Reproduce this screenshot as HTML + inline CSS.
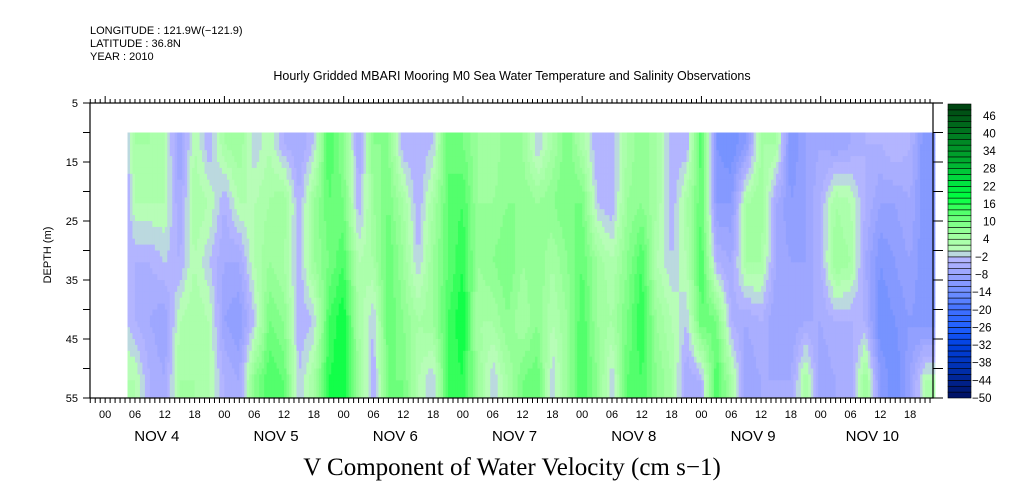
<!DOCTYPE html>
<html><head><meta charset="utf-8"><style>
html,body{margin:0;padding:0;background:#fff;}
svg{display:block;font-family:"Liberation Sans",sans-serif;}
</style></head><body>
<svg id="chart" width="1009" height="504" viewBox="0 0 1009 504" xmlns="http://www.w3.org/2000/svg">
<g font-size="11" fill="#000">
<text x="90" y="34">LONGITUDE : 121.9W(−121.9)</text>
<text x="90" y="47">LATITUDE : 36.8N</text>
<text x="90" y="60">YEAR : 2010</text>
</g>
<text x="512" y="80" text-anchor="middle" font-size="12.5">Hourly Gridded MBARI Mooring M0 Sea Water Temperature and Salinity Observations</text>
<g id="heat"></g>
<g id="axes"></g>
<g id="cbar"></g>
<text transform="translate(51,255) rotate(-90)" text-anchor="middle" font-size="11">DEPTH (m)</text>
<text x="512" y="475" text-anchor="middle" font-family="Liberation Serif, serif" font-size="25">V Component of Water Velocity (cm s−1)</text>
</svg>
<script>
// hours since NOV 4 00:00
const times = [4.5,6,9,12,15,18,21,24,27,30,33,36,39,42,45,48,51,54,57,60,63,66,69,72,75,78,81,84,87,90,93,96,99,102,105,108,111,114,117,120,123,126,129,132,135,138,141,144,147,150,153,156,159,162,165,166.6];
const depths = [10,12,22,32,42,52,55];
// values (cm/s) at depths 12,22,32,42,52 per time
const v12 = [-2,4,4,2,-8,2,-4,4,6,-2,2,-4,-6,-2,14,8,-6,8,8,-4,-4,-2,12,10,6,4,8,6,-2,4,10,3,-4,-4,4,8,4,-4,-4,14,-12,-14,-10,4,4,-12,-8,-6,-8,-6,-4,-4,-2,-4,-12,-12];
const v22 = [-4,2,2,2,-6,4,2,-4,2,2,4,6,-4,6,12,10,-4,6,10,4,-4,4,12,14,6,6,8,8,6,8,10,10,-2,-4,6,8,4,-4,4,12,-10,-10,4,6,-6,-10,-8,-4,4,2,-4,-8,-8,-6,-12,-12];
const v32 = [-4,-4,-4,-2,-4,2,-2,-6,-6,2,6,4,-4,6,10,14,2,4,12,6,-2,6,12,16,6,8,10,6,8,4,8,12,6,2,8,14,2,-2,2,14,-4,-6,4,4,-6,-8,-8,-4,6,4,-6,-12,-10,-8,-12,-12];
const v42 = [-2,-4,-6,-8,2,4,2,-8,-10,-2,10,8,-4,-2,14,18,4,-2,12,8,4,6,14,18,4,4,8,4,8,2,6,14,6,4,10,16,6,2,-2,12,10,-4,-6,-4,-8,-8,-6,-6,-4,-4,-4,-14,-12,-10,-12,-12];
const v52 = [2,2,-4,-6,4,4,2,-4,-6,8,14,12,-2,4,16,18,6,-4,10,10,2,-2,14,16,6,-2,4,10,12,-2,6,14,8,-2,12,14,8,4,-6,-4,14,4,-8,-6,-6,-6,4,-8,-6,-6,6,-10,-14,-8,2,2];
const cbLabels = [46,40,34,28,22,16,10,4,-2,-8,-14,-20,-26,-32,-38,-44,-50];
const dayLabels = ["NOV  4","NOV  5","NOV  6","NOV  7","NOV  8","NOV  9","NOV 10"];
const depthTicks = [5,15,25,35,45,55];

const NS="http://www.w3.org/2000/svg";
const X0=90, X1=933, T0=-3.05, T1=166.6;
const Y0=103, Y1=398, D0=5, D1=55;
const xs = t => X0+(t-T0)/(T1-T0)*(X1-X0);
const ys = d => Y0+(d-D0)/(D1-D0)*(Y1-Y0);
function el(tag,attrs,parent){const e=document.createElementNS(NS,tag);for(const k in attrs)e.setAttribute(k,attrs[k]);parent.appendChild(e);return e;}

const stops=[[-50,[0,16,96]],[-40,[0,48,176]],[-32,[0,64,224]],[-26,[32,96,255]],[-20,[64,112,255]],[-14,[112,144,255]],[-10,[140,156,255]],[-6,[164,170,255]],[-2,[184,184,255]],[0,[190,250,190]],[2,[176,255,176]],[6,[156,255,156]],[10,[120,255,130]],[14,[70,255,100]],[18,[0,255,64]],[24,[0,224,64]],[30,[0,176,48]],[40,[0,120,32]],[50,[0,64,16]]];
function colorFor(v){
  let b=Math.floor(v/2)*2; b=Math.max(-50,Math.min(48,b)); const c=b+1;
  for(let i=0;i<stops.length-1;i++){const [a,ca]=stops[i],[bb,cb]=stops[i+1];
    if(c>=a&&c<=bb){const f=(c-a)/(bb-a);return `rgb(${ca.map((q,j)=>Math.round(q+(cb[j]-q)*f)).join(',')})`;}}
  return c<0?'rgb(0,16,96)':'rgb(0,64,16)';
}
const prof=[v12,v22,v32,v42,v52];
function valAt(i,d){
  const col=[prof[0][i],prof[0][i],prof[1][i],prof[2][i],prof[3][i],prof[4][i],prof[4][i]];
  for(let k=0;k<depths.length-1;k++){if(d>=depths[k]&&d<=depths[k+1]){const f=(d-depths[k])/(depths[k+1]-depths[k]);return col[k]+(col[k+1]-col[k])*f;}}
  return col[col.length-1];
}
const heat=document.getElementById('heat');
const dt=0.5, dd=1;
for(let t=times[0]; t<times[times.length-1]; t+=dt){
  let i=0; while(i<times.length-2 && times[i+1]<=t) i++;
  const f=(t+dt/2-times[i])/(times[i+1]-times[i]);
  for(let d=10; d<55; d+=dd){
    const dm=d+dd/2;
    const v=valAt(i,dm)*(1-f)+valAt(i+1,dm)*f;
    const r=el('rect',{x:xs(t).toFixed(2),y:ys(d).toFixed(2),width:(xs(t+dt)-xs(t)+0.4).toFixed(2),height:(ys(d+dd)-ys(d)+0.4).toFixed(2),fill:colorFor(v)},heat);
    
    
  }
}
const ax=document.getElementById('axes');
el('rect',{x:X0,y:Y0,width:X1-X0,height:Y1-Y0,fill:'none',stroke:'#000','stroke-width':1.2},ax);
el('line',{x1:X1,y1:Y0,x2:943,y2:Y0,stroke:'#000','stroke-width':1.2},ax);
for(let h=Math.ceil(T0); h<=T1; h++){
  const x=xs(h), major=((h%24)+24)%24===0;
  el('line',{x1:x,y1:Y1,x2:x,y2:Y1+5,stroke:'#000'},ax);
  el('line',{x1:x,y1:Y0,x2:x,y2:Y0-(major?7:4),stroke:'#000'},ax);
  if(h%6===0 && h>=0){
    const hh=((h%24)+24)%24;
    const lb=el('text',{x:x,y:418,'text-anchor':'middle','font-size':11},ax);
    lb.textContent=(hh<10?'0':'')+hh;
    
    
  }
}
dayLabels.forEach((s,i)=>{
  const t=el('text',{x:xs(i*24+12)-8,y:441,'text-anchor':'middle','font-size':15,'xml:space':'preserve'},ax);
  t.textContent=s;
  
  
});
for(let d=5; d<=55; d+=5){
  el('line',{x1:X0-7,y1:ys(d),x2:X0,y2:ys(d),stroke:'#000'},ax);
  el('line',{x1:X1,y1:ys(d),x2:943,y2:ys(d),stroke:'#000'},ax);
}
depthTicks.forEach(d=>{
  const t=el('text',{x:78,y:ys(d)+4,'text-anchor':'end','font-size':11},ax);
  t.textContent=d;
  
  
});
const cb=document.getElementById('cbar');
const CX=948,CW=23,CY0=104,CY1=398;
const cy=v=>CY1-(v+50)/100*(CY1-CY0);
for(let v=-50; v<50; v+=2){
  const r=el('rect',{x:CX,y:cy(v+2),width:CW,height:cy(v)-cy(v+2),fill:colorFor(v+0.5),stroke:'#000','stroke-width':0.6},cb);
  
  
}
cbLabels.forEach(v=>{
  const y=cy(v);
  const t=el('text',{x:v<0?(v<=-10?972:975):983,y:y+4,'font-size':11.5},cb);
  t.textContent=v<0?('\u2212'+(-v)):String(v);
  
  
});
</script>
</body></html>
